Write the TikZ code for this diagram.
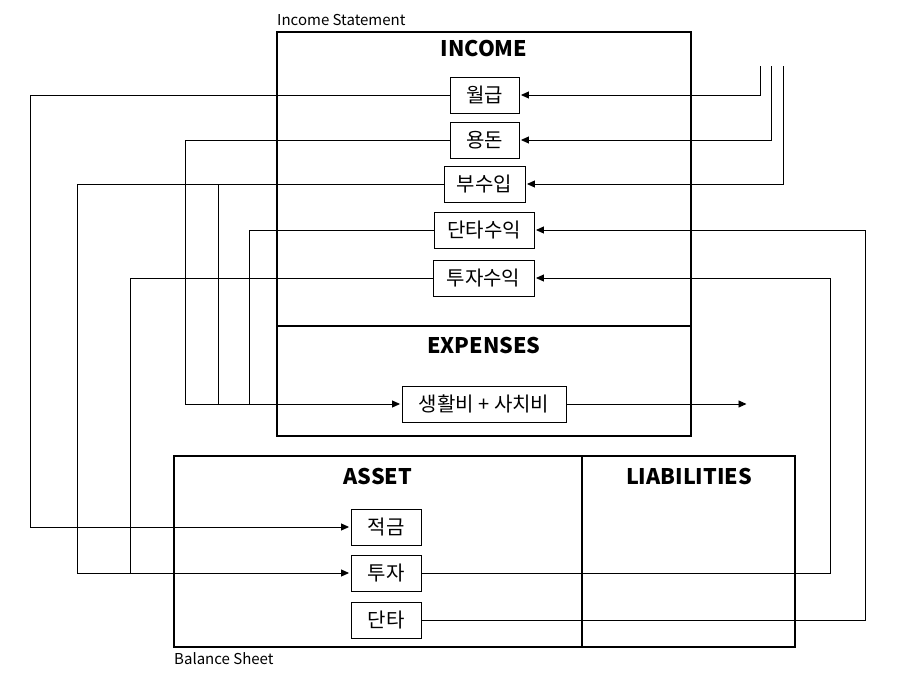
\documentclass[tikz,border=0pt]{standalone}
\usepackage{fontspec}
\setmainfont{Noto Sans CJK KR}
\usetikzlibrary{arrows.meta}

\tikzset{
  itembox/.style={draw,line width=.9pt,minimum height=36pt,inner sep=0pt,font=\fontsize{20}{20}\selectfont},
  title/.style={font=\fontsize{21.5}{21.5}\selectfont\bfseries},
  caption/.style={anchor=west,inner sep=0pt,font=\fontsize{15}{15}\selectfont},
  frame/.style={line width=2.2pt},
  arr/.style={line width=.9pt,-{Triangle[length=8pt,width=7pt]},shorten >=1.5pt},
  wire/.style={line width=.9pt}
}

\begin{document}
\begin{tikzpicture}[x=1pt,y=-1pt]

\useasboundingbox (0,0) rectangle (911,681);

%%%%%%%%%%%%%%%%%%%%%%%%%%%%%%%%%%%%%%
\draw [frame] (277,32) rectangle (691,436);
\draw [frame] (277,326) -- (691,326);
\node[caption] at (277,20) (IS) {Income Statement};

\node[title] at (484,48) (income) {INCOME};
\node[title] at (484,345) (expenses) {EXPENSES};

\node[itembox,minimum width=69pt] at (484.5,95) (wolgup) {월급};
\node[itembox,minimum width=69pt] at (484.5,140) (yongdon) {용돈};
\node[itembox,minimum width=81pt] at (484.5,184) (busu) {부수입};
\node[itembox,minimum width=100pt] at (484,230) (dantain) {단타수익};
\node[itembox,minimum width=101pt] at (483.5,278) (tujain) {투자수익};

\node[itembox,minimum width=164pt] at (484,404) (living) {생활비 + 사치비};


%%%%%%%%%%%%%%%%%%%%%%%%%%%%%%%%%%%%%%
\draw [frame] (174,456) rectangle (795,647);
\draw [frame] (582,456) -- (582,647);
\node[caption] at (174,659) (BS) {Balance Sheet};

\node[title] at (378,476) (asset) {ASSET};
\node[title] at (689,476) (liab) {LIABILITIES};

\node[itembox,minimum width=70pt] at (386,527) (jeokgum) {적금};
\node[itembox,minimum width=70pt] at (386,573) (tuja) {투자};
\node[itembox,minimum width=70pt] at (386,620) (danta) {단타};


%%%%%%%%%%%%%%%%%%%%%%%%%%%%%%%%%%%%%%
\coordinate (in1) at (760,66);
\coordinate (in2) at (771,66);
\coordinate (in3) at (783,66);
\coordinate (out) at (748,404);

\draw[arr] (in1) |- (wolgup.east);
\draw[arr] (in2) |- (yongdon.east);
\draw[arr] (in3) |- (busu.east);

\draw[arr] (wolgup.west) -| (30,527) -- (jeokgum.west);
\draw[arr] (yongdon.west) -| (185,404) -- (living.west);
\draw[arr] (busu.west) -| (77,573) -- (tuja.west);
\draw[wire] (busu.west) -| (218,404);
\draw[wire] (dantain.west) -| (249,404);
\draw[wire] (tujain.west) -| (130,573);

\draw[arr] (living.east) -- (out);

\draw[arr] (tuja.east) -| (830,278) -- (tujain.east);
\draw[arr] (danta.east) -| (865,230) -- (dantain.east);

\end{tikzpicture}
\end{document}
